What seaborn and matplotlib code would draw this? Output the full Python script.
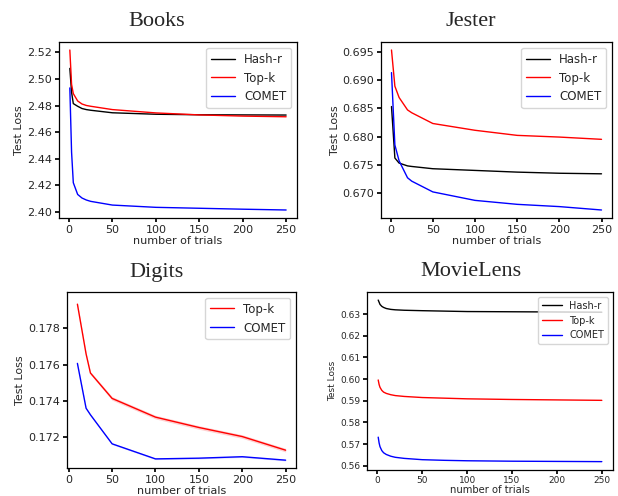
import pandas as pd
import numpy as np
import matplotlib.pyplot as plt
import seaborn as sns

sns.set_theme(style="ticks")
plt.rcParams['font.family'] = ['DejaVu Sans']

methods = ['Hash-r', 'Top-k', 'COMET']
palette = {'Hash-r': 'black', 'Top-k': 'red', 'COMET': 'blue'}

# Books
books_x = [1, 3, 5, 10, 15, 20, 25, 50, 100, 150, 200, 250]
books_hash = [2.508, 2.490, 2.4815, 2.4795, 2.4778, 2.4770, 2.4765, 2.4746, 2.4735, 2.4731, 2.4730, 2.4729]
books_topk = [2.5218, 2.496, 2.489, 2.4835, 2.4812, 2.4801, 2.4795, 2.4770, 2.4745, 2.4730, 2.4721, 2.4716]
books_comet = [2.4933, 2.445, 2.422, 2.4132, 2.4105, 2.4090, 2.4080, 2.4052, 2.4035, 2.4028, 2.4021, 2.4015]

# Jester
jester_x = [1, 5, 10, 20, 25, 50, 100, 150, 200, 250]
jester_hash = [0.6853, 0.6762, 0.6753, 0.6748, 0.6747, 0.6743, 0.6740, 0.6737, 0.6735, 0.6734]
jester_topk = [0.6953, 0.6889, 0.6869, 0.6847, 0.6842, 0.6823, 0.6811, 0.6802, 0.6799, 0.6795]
jester_comet = [0.6913, 0.6785, 0.6757, 0.6727, 0.6721, 0.6702, 0.6687, 0.6680, 0.6676, 0.6670]

# Digits
digits_x = [10, 20, 25, 50, 100, 150, 200, 250]
digits_topk = [0.17934, 0.17660, 0.17555, 0.17415, 0.17312, 0.17255, 0.17205, 0.17130]
digits_comet = [0.17608, 0.17361, 0.17325, 0.17165, 0.17082, 0.17086, 0.17094, 0.17075]
digits_topk_hw = [0.00008, 0.00008, 0.00008, 0.0001, 0.0001, 0.0001, 0.0001, 0.0001]
digits_comet_hw = [0.00004, 0.00004, 0.00004, 0.00004, 0.00004, 0.00004, 0.00004, 0.00004]

# MovieLens
movie_x = [1, 2, 3, 5, 7, 10, 15, 20, 30, 50, 75, 100, 150, 200, 250]
movie_hash = [0.6365, 0.6355, 0.6345, 0.6336, 0.6331, 0.6326, 0.6322, 0.6320, 0.6318, 0.6316, 0.6314, 0.6312, 0.6311, 0.6310, 0.6309]
movie_topk = [0.5996, 0.5975, 0.5962, 0.5948, 0.5940, 0.5934, 0.5928, 0.5924, 0.5920, 0.5915, 0.5912, 0.5909, 0.5906, 0.5904, 0.5902]
movie_comet = [0.5732, 0.5705, 0.5688, 0.5670, 0.5660, 0.5652, 0.5644, 0.5639, 0.5634, 0.5628, 0.5625, 0.5623, 0.5621, 0.5620, 0.5619]


def long_df(x, series):
    frames = []
    for name, vals in series.items():
        frames.append(pd.DataFrame({'trials': x, 'loss': vals, 'method': name}))
    return pd.concat(frames, ignore_index=True)


def style_ax(ax, fs, lfs, yfs=None):
    ax.set_xlabel('number of trials', fontsize=fs, labelpad=1)
    ax.set_ylabel('Test Loss', fontsize=yfs or fs, labelpad=2)
    ax.tick_params(labelsize=fs, length=3, pad=2, color='black')
    for s in ax.spines.values():
        s.set_color('black')
        s.set_linewidth(0.9)
    ax.legend(loc='upper right', fontsize=lfs)


fig = plt.figure(figsize=(6.18, 4.96), dpi=100)
ax_b = fig.add_axes([0.0955, 0.5605, 0.385, 0.3548])
ax_j = fig.add_axes([0.6165, 0.5605, 0.3738, 0.3548])
ax_d = fig.add_axes([0.1084, 0.0565, 0.3706, 0.3548])
ax_m = fig.add_axes([0.5939, 0.053, 0.398, 0.3583])

df_b = long_df(books_x, {'Hash-r': books_hash, 'Top-k': books_topk, 'COMET': books_comet})
sns.lineplot(data=df_b, x='trials', y='loss', hue='method', hue_order=methods,
             palette=palette, linewidth=1, ax=ax_b)
ax_b.set_yticks(np.arange(2.40, 2.521, 0.02))
ax_b.set_xticks(range(0, 251, 50))
style_ax(ax_b, 8, 8.5)

df_j = long_df(jester_x, {'Hash-r': jester_hash, 'Top-k': jester_topk, 'COMET': jester_comet})
sns.lineplot(data=df_j, x='trials', y='loss', hue='method', hue_order=methods,
             palette=palette, linewidth=1, ax=ax_j)
ax_j.set_yticks([0.670, 0.675, 0.680, 0.685, 0.690, 0.695])
ax_j.set_xticks(range(0, 251, 50))
style_ax(ax_j, 8, 8.5)

df_d = long_df(digits_x, {'Top-k': digits_topk, 'COMET': digits_comet})
sns.lineplot(data=df_d, x='trials', y='loss', hue='method', hue_order=['Top-k', 'COMET'],
             palette=palette, linewidth=1, errorbar=None, ax=ax_d)
ax_d.fill_between(digits_x, np.array(digits_topk) - digits_topk_hw,
                  np.array(digits_topk) + digits_topk_hw, color='red', alpha=0.18, lw=0)
ax_d.fill_between(digits_x, np.array(digits_comet) - digits_comet_hw,
                  np.array(digits_comet) + digits_comet_hw, color='blue', alpha=0.18, lw=0)
ax_d.set_yticks([0.172, 0.174, 0.176, 0.178])
ax_d.set_ylim(0.17032, 0.18001)
ax_d.set_xticks(range(0, 251, 50))
style_ax(ax_d, 8, 8.5)

df_m = long_df(movie_x, {'Hash-r': movie_hash, 'Top-k': movie_topk, 'COMET': movie_comet})
sns.lineplot(data=df_m, x='trials', y='loss', hue='method', hue_order=methods,
             palette=palette, linewidth=1, ax=ax_m)
ax_m.set_yticks(np.arange(0.56, 0.631, 0.01))
ax_m.set_xticks(range(0, 251, 50))
style_ax(ax_m, 6.5, 7)
ax_m.tick_params(axis='x', pad=1.5)
ax_m.set_xlabel('number of trials', fontsize=7.2, labelpad=0)

title_font = dict(family='Liberation Serif', fontsize=16, ha='center', va='center')
fig.text(157 / 618, 1 - 22 / 496, 'Books', **title_font)
fig.text(471 / 618, 1 - 22 / 496, 'Jester', **title_font)
fig.text(157 / 618, 1 - 272 / 496, 'Digits', **title_font)
fig.text(471 / 618, 1 - 272 / 496, 'MovieLens', **title_font)

fig.savefig('out.png', dpi=100)
